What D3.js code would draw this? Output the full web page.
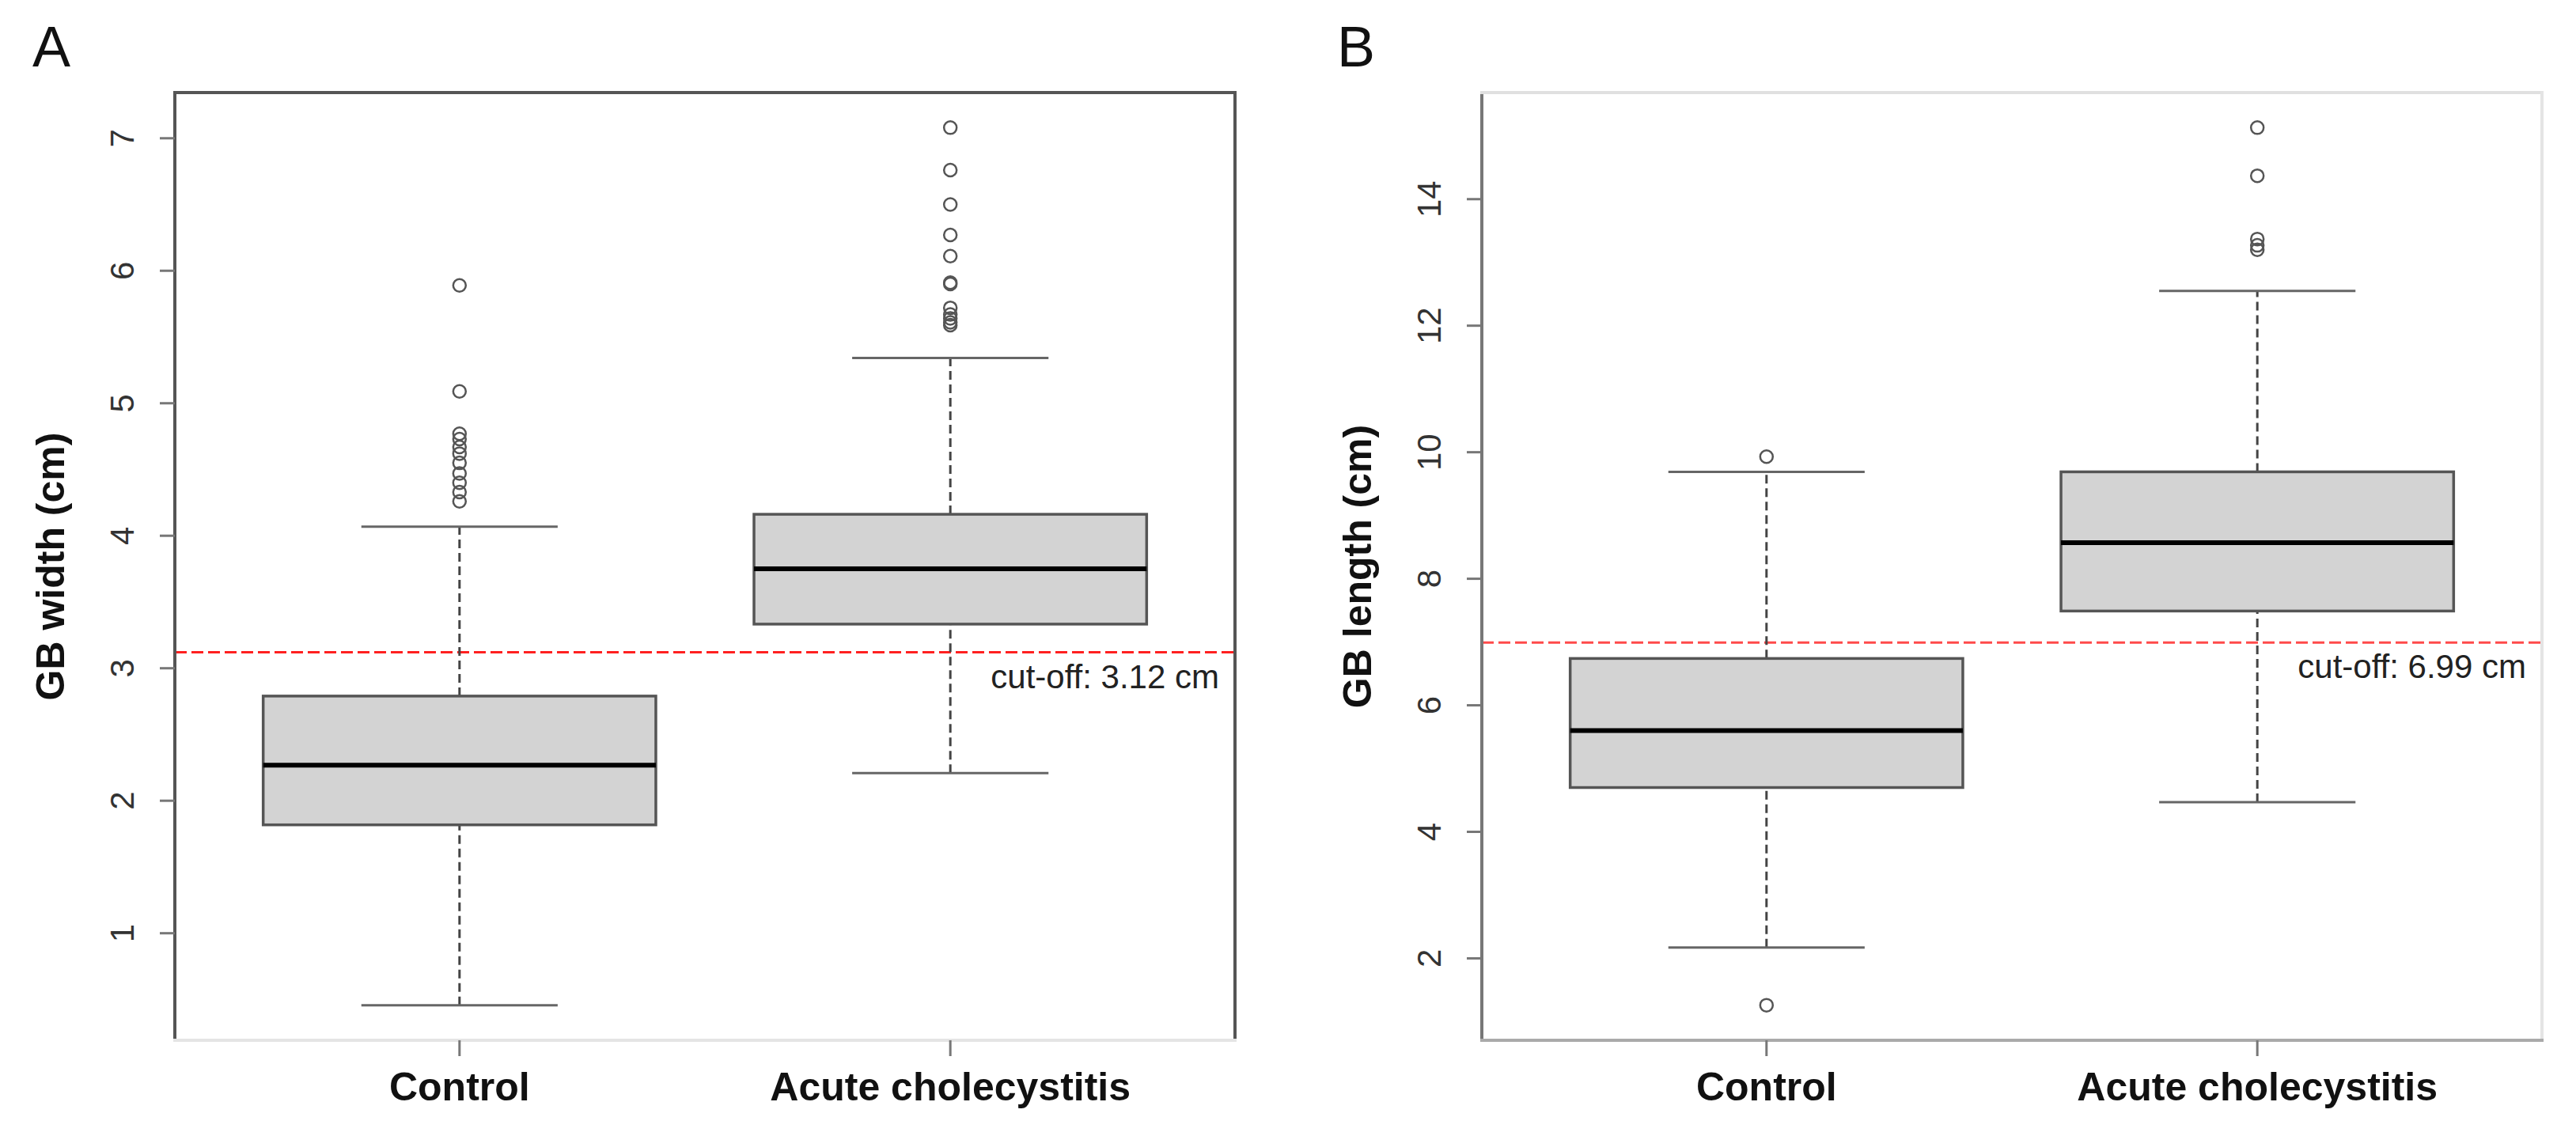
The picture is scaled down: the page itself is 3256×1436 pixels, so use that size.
<!DOCTYPE html>
<html>
<head>
<meta charset="utf-8">
<script src="https://cdn.jsdelivr.net/npm/d3@7"></script>
<style>
body { margin: 0; background: #fff; }
text { font-family: "Liberation Sans", Arial, sans-serif; }
</style>
</head>
<body>
<script>
// GB width / GB length boxplots, control vs acute cholecystitis

var categories = ["Control", "Acute cholecystitis"];

// [lower whisker, Q1, median, Q3, upper whisker]
var widthStats = [[0.457, 1.818, 2.268, 2.79, 4.069],
                  [2.208, 3.333, 3.75, 4.162, 5.342]];
var widthOutliers = [[4.26, 4.33, 4.40, 4.47, 4.55, 4.62, 4.67, 4.73, 4.77, 5.09, 5.89],
                     [5.59, 5.61, 5.64, 5.67, 5.72, 5.90, 5.91, 6.11, 6.27, 6.50, 6.76, 7.08]];
var widthTicks = [1, 2, 3, 4, 5, 6, 7];
var widthCutoff = 3.12;

var lengthStats = [[2.17, 4.70, 5.60, 6.74, 9.69],
                   [4.47, 7.49, 8.57, 9.69, 12.55]];
var lengthOutliers = [[1.26, 9.93],
                      [13.20, 13.27, 13.37, 14.37, 15.13]];
var lengthTicks = [2, 4, 6, 8, 10, 12, 14];
var lengthCutoff = 6.99;

var width = 3256,
    height = 1436;

var svg = d3.select("body").append("svg")
    .attr("width", width)
    .attr("height", height);

function drawPanel(p)
{
    var left = p.left,
        right = p.left + 1340,
        top = 117,
        bottom = 1315;

    var g = svg.append("g");

    // R style range: data extremes plus 4%
    var all = [];
    p.stats.forEach(function(s, i) { all = all.concat(s, p.outliers[i]); });
    var lo = d3.min(all),
        hi = d3.max(all);
    var pad = (hi - lo) * 0.04;

    var y = d3.scaleLinear().domain([lo - pad, hi + pad]).range([bottom, top]);
    var x = d3.scaleLinear().domain([0.42, 2.58]).range([left, right]);

    // cut-off line
    g.append("line")
        .attr("x1", left).attr("x2", right)
        .attr("y1", y(p.cutoff)).attr("y2", y(p.cutoff))
        .attr("stroke", p.red)
        .attr("stroke-width", 3)
        .attr("stroke-dasharray", "15,6");

    g.append("text")
        .attr("x", right - 20)
        .attr("y", y(p.cutoff) + 45)
        .attr("text-anchor", "end")
        .attr("font-size", "42px")
        .attr("fill", "#222")
        .text("cut-off: " + p.cutoff.toFixed(2) + " cm");

    var bw = x(1.4) - x(1),     // half box width
        cw = x(1.2) - x(1);     // half staple width

    p.stats.forEach(function(s, i) {
        var cx = x(i + 1);

        // whiskers
        g.append("line")
            .attr("x1", cx).attr("x2", cx)
            .attr("y1", y(s[0])).attr("y2", y(s[1]))
            .attr("stroke", "#444").attr("stroke-width", 3)
            .attr("stroke-dasharray", "11,6");
        g.append("line")
            .attr("x1", cx).attr("x2", cx)
            .attr("y1", y(s[3])).attr("y2", y(s[4]))
            .attr("stroke", "#444").attr("stroke-width", 3)
            .attr("stroke-dasharray", "11,6");

        // staples
        [s[0], s[4]].forEach(function(v) {
            g.append("line")
                .attr("x1", cx - cw).attr("x2", cx + cw)
                .attr("y1", y(v)).attr("y2", y(v))
                .attr("stroke", "#666").attr("stroke-width", 3);
        });

        g.append("rect")
            .attr("x", cx - bw)
            .attr("y", y(s[3]))
            .attr("width", 2 * bw)
            .attr("height", y(s[1]) - y(s[3]))
            .attr("fill", "#d3d3d3")
            .attr("stroke", "#555")
            .attr("stroke-width", 3.5);

        g.append("line")
            .attr("x1", cx - bw).attr("x2", cx + bw)
            .attr("y1", y(s[2])).attr("y2", y(s[2]))
            .attr("stroke", "#000").attr("stroke-width", 6);

        g.selectAll(".out" + i)
            .data(p.outliers[i])
            .enter().append("circle")
            .attr("cx", cx)
            .attr("cy", function(d) { return y(d); })
            .attr("r", 8)
            .attr("fill", "none")
            .attr("stroke", "#555")
            .attr("stroke-width", 2.5);
    });

    // frame, sides drawn separately (they differ in the original)
    var sides = [[left, top, left, bottom, p.frame[0]],
                 [left, top, right, top, p.frame[1]],
                 [right, top, right, bottom, p.frame[2]],
                 [left, bottom, right, bottom, p.frame[3]]];
    sides.forEach(function(d) {
        g.append("line")
            .attr("x1", d[0]).attr("y1", d[1])
            .attr("x2", d[2]).attr("y2", d[3])
            .attr("stroke", d[4])
            .attr("stroke-width", 4)
            .attr("stroke-linecap", "square");
    });

    // y axis
    g.selectAll(".ytick")
        .data(p.ticks)
        .enter().append("line")
        .attr("x1", left - 19).attr("x2", left)
        .attr("y1", function(d) { return y(d); })
        .attr("y2", function(d) { return y(d); })
        .attr("stroke", "#777").attr("stroke-width", 3);

    g.selectAll(".ylab")
        .data(p.ticks)
        .enter().append("text")
        .attr("transform", function(d) { return "translate(" + (left - 52) + "," + y(d) + ") rotate(-90)"; })
        .attr("text-anchor", "middle")
        .attr("font-size", "42px")
        .attr("fill", "#333")
        .text(function(d) { return d; });

    g.append("text")
        .attr("transform", "translate(" + (left - 140) + "," + ((top + bottom) / 2) + ") rotate(-90)")
        .attr("text-anchor", "middle")
        .attr("font-size", "50px")
        .attr("font-weight", "bold")
        .attr("fill", "#111")
        .text(p.title);

    // x axis
    categories.forEach(function(c, i) {
        g.append("line")
            .attr("x1", x(i + 1)).attr("x2", x(i + 1))
            .attr("y1", bottom).attr("y2", bottom + 20)
            .attr("stroke", "#777").attr("stroke-width", 3);
        g.append("text")
            .attr("x", x(i + 1))
            .attr("y", 1391)
            .attr("text-anchor", "middle")
            .attr("font-size", "50px")
            .attr("font-weight", "bold")
            .attr("fill", "#111")
            .text(c);
    });

    svg.append("text")
        .attr("x", p.letterX)
        .attr("y", 84)
        .attr("font-size", "72px")
        .attr("fill", "#111")
        .text(p.letter);
}

drawPanel({
    left: 221, letter: "A", letterX: 41,
    title: "GB width (cm)",
    stats: widthStats, outliers: widthOutliers,
    ticks: widthTicks, cutoff: widthCutoff,
    red: "#ff2020",
    frame: ["#555", "#555", "#555", "#e4e4e4"]
});

drawPanel({
    left: 1873, letter: "B", letterX: 1690,
    title: "GB length (cm)",
    stats: lengthStats, outliers: lengthOutliers,
    ticks: lengthTicks, cutoff: lengthCutoff,
    red: "#ff4a4a",
    frame: ["#777", "#e0e0e0", "#e4e4e4", "#aaa"]
});
</script>
</body>
</html>
